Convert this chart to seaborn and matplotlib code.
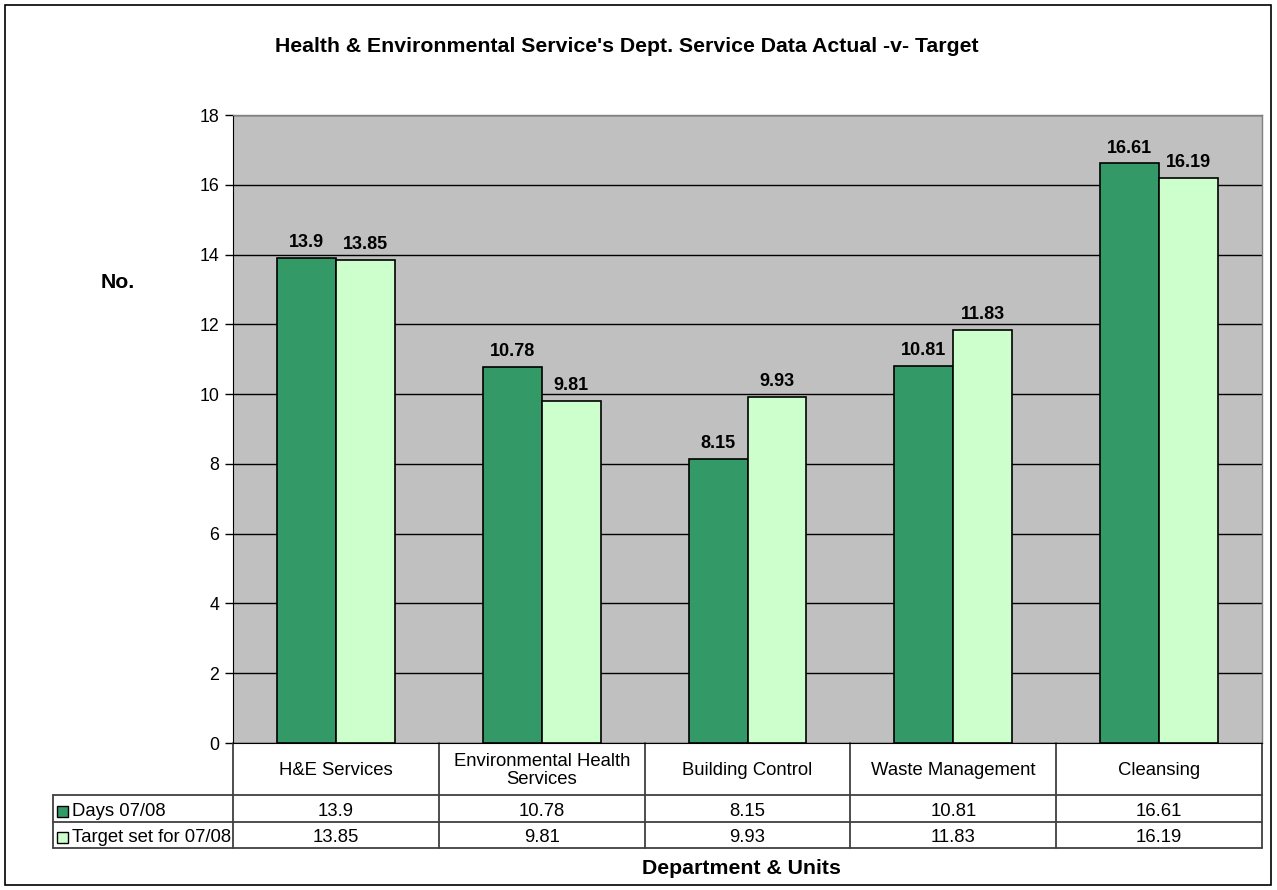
import matplotlib
matplotlib.use("Agg")
import matplotlib.pyplot as plt
import matplotlib.transforms as mtransforms
from matplotlib.patches import Rectangle
import seaborn as sns
import pandas as pd

# ---- data ----
departments = ["H&E Services", "Environmental Health\nServices", "Building Control",
               "Waste Management", "Cleansing"]
series_names = ["Days 07/08", "Target set for 07/08"]
days_0708 = [13.9, 10.78, 8.15, 10.81, 16.61]
target_0708 = [13.85, 9.81, 9.93, 11.83, 16.19]
y_ticks = [0, 2, 4, 6, 8, 10, 12, 14, 16, 18]

colors = ["#339966", "#CCFFCC"]

sns.set_style("white")
plt.rcParams["font.family"] = ["Liberation Sans", "DejaVu Sans"]
plt.rcParams["text.color"] = "black"
plt.rcParams["ytick.color"] = "black"
plt.rcParams["ytick.labelcolor"] = "black"

W, H = 1277, 890
fig = plt.figure(figsize=(W / 100, H / 100), dpi=100)


def fx(px):
    return px / W


def fy(py):
    return 1 - py / H


ax = fig.add_axes([fx(233), fy(743), fx(1262) - fx(233), fy(115) - fy(743)])
ax.set_facecolor("#C0C0C0")

df = pd.DataFrame({
    "dept": departments * 2,
    "series": [series_names[0]] * len(departments) + [series_names[1]] * len(departments),
    "value": days_0708 + target_0708,
})

sns.barplot(data=df, x="dept", y="value", hue="series", order=departments,
            hue_order=series_names, palette=colors, width=0.573, gap=0,
            edgecolor="black", linewidth=1.2, saturation=1, legend=False, ax=ax)

for cont in ax.containers:
    ax.bar_label(cont, fmt="%g", padding=5, fontsize=13, fontweight="bold")

ax.set_xlim(-0.5, len(departments) - 0.5)
ax.set_ylim(0, 18)
ax.set_yticks(y_ticks)
ax.set_axisbelow(True)
ax.yaxis.grid(True, color="black", linewidth=1)
ax.xaxis.grid(False)
ax.set_xticks([])
ax.set_xlabel("")
ax.set_ylabel("")
ax.tick_params(axis="y", which="major", left=True, length=6, width=1, color="black",
               labelsize=12.8, pad=4)
for side in ["top", "right"]:
    ax.spines[side].set_color("#808080")
    ax.spines[side].set_linewidth(1)
ax.spines["left"].set_color("black")
ax.spines["bottom"].set_color("black")

# ---- data table beneath the plot ----
tr = mtransforms.blended_transform_factory(ax.transData, fig.transFigure)
ftr = fig.transFigure
y_head_top, y_head_bot, y_row1_bot, y_row2_bot = fy(743), fy(795), fy(822), fy(848)
line_kw = dict(color="#404040", linewidth=1.3, clip_on=False)
table_fs = 13.3

for b in range(len(departments) + 1):
    xb = b - 0.5
    ax.add_line(plt.Line2D([xb, xb], [y_head_top, y_row2_bot], transform=tr, **line_kw))

for yy in (y_head_bot, y_row1_bot, y_row2_bot):
    ax.add_line(plt.Line2D([fx(53), fx(1262)], [yy, yy], transform=ftr, **line_kw))
ax.add_line(plt.Line2D([fx(53), fx(53)], [y_head_bot, y_row2_bot], transform=ftr, **line_kw))

for i, name in enumerate(departments):
    ax.text(i, (y_head_top + y_head_bot) / 2 - 1.5 / H, name, transform=tr,
            fontsize=table_fs, ha="center", va="center", linespacing=1.15, clip_on=False)

rows = [days_0708, target_0708]
row_centres = [(y_head_bot + y_row1_bot) / 2 - 3 / H, (y_row1_bot + y_row2_bot) / 2 - 3 / H]
for vals, yc, name, col in zip(rows, row_centres, series_names, colors):
    for i, v in enumerate(vals):
        ax.text(i, yc, f"{v:g}", transform=tr, fontsize=table_fs, ha="center",
                va="center", clip_on=False)
    fig.patches.append(Rectangle((fx(57), yc - 5 / H), 11 / W, 11 / H, transform=ftr,
                                 facecolor=col, edgecolor="black", linewidth=1, figure=fig))
    fig.text(fx(72), yc, name, fontsize=table_fs, ha="left", va="center")

# ---- titles ----
bold_fs = 15.3
fig.text(fx(627), fy(46), "Health & Environmental Service's Dept. Service Data Actual -v- Target",
         fontsize=bold_fs, fontweight="bold", ha="center", va="center")
fig.text(fx(118), fy(282), "No.", fontsize=bold_fs, fontweight="bold", ha="center", va="center")
fig.text(fx(741), fy(868), "Department & Units", fontsize=bold_fs, fontweight="bold",
         ha="center", va="center")

# outer chart frame
fig.patches.append(Rectangle((fx(5), fy(885)), fx(1271) - fx(5), fy(5) - fy(885),
                             transform=ftr, fill=False, edgecolor="black", linewidth=1.2,
                             figure=fig))

fig.savefig("out.png", dpi=100, facecolor="white")
